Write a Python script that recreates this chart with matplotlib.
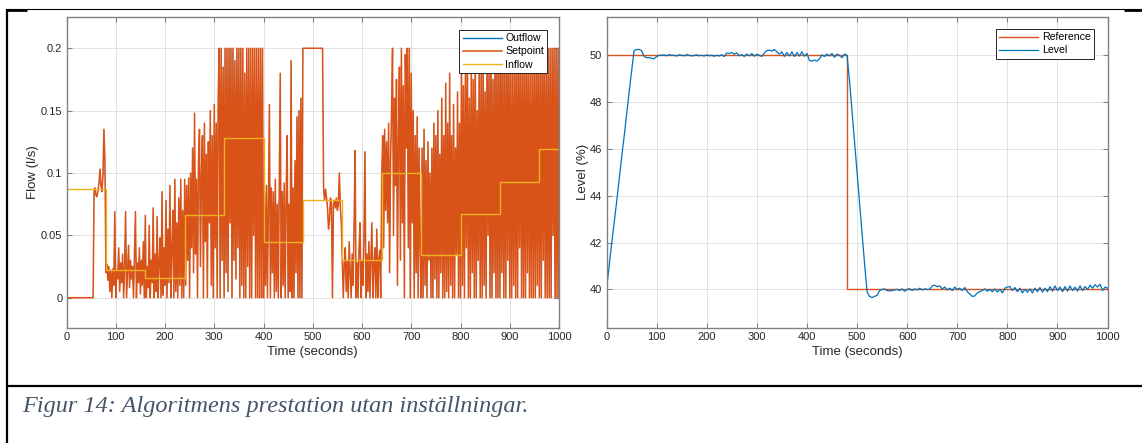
#%% imports
import numpy as np
import matplotlib
matplotlib.use('Agg')
import matplotlib.pyplot as plt
from matplotlib.lines import Line2D

plt.rcParams['font.family'] = ['Liberation Sans', 'DejaVu Sans']

#%% data

# left plot, sampled every 2 s, flow in ml/s
setpoint_ml = [
    # 0-54 s
    0, 0, 0, 0, 0, 0, 0, 0, 0, 0, 0, 0, 0, 0, 0, 0, 0, 0, 0, 0, 0, 0, 0, 0, 0, 0, 0, 0,
    # 56-78 s
    85, 88, 82, 81, 86, 92, 103, 90, 85, 98, 135, 110,
    # 80-158 s
    20, 27, 14, 25, 5, 22, 0, 23, 10, 69, 0, 22, 15, 40, 5, 28, 12, 35, 0, 25,
    69, 0, 20, 42, 8, 30, 15, 25, 0, 35, 69, 0, 28, 12, 40, 3, 30, 10, 45, 0,
    # 160-238 s
    66, 0, 25, 8, 58, 0, 30, 12, 72, 0, 35, 5, 65, 0, 28, 48, 0, 85, 2, 40,
    10, 78, 0, 55, 12, 90, 0, 38, 70, 0, 95, 5, 60, 0, 80, 10, 95, 0, 70, 0,
    # 240-318 s
    95, 10, 90, 30, 96, 0, 100, 40, 120, 20, 148, 35, 95, 0, 110, 135, 25, 100, 130, 0,
    140, 45, 115, 0, 125, 60, 150, 10, 130, 0, 155, 40, 140, 0, 160, 200, 0, 200, 30, 185,
    # 320-398 s
    0, 200, 20, 200, 5, 200, 60, 200, 0, 200, 30, 190, 15, 200, 40, 200, 0, 200, 10, 200,
    0, 180, 0, 200, 25, 200, 0, 200, 0, 200, 50, 200, 0, 200, 0, 200, 0, 200, 0, 200,
    # 400-478 s
    0, 85, 10, 90, 0, 80, 155, 0, 88, 20, 85, 0, 95, 5, 75, 0, 90, 180, 0, 85,
    10, 92, 0, 80, 130, 0, 75, 5, 190, 0, 88, 0, 110, 20, 145, 0, 150, 0, 160, 0,
    # 480-518 s
    200, 200, 200, 200, 200, 200, 200, 200, 200, 200,
    200, 200, 200, 200, 200, 200, 200, 200, 200, 200,
    # 520-558 s
    200, 88, 78, 87, 80, 72, 55, 62, 80, 76, 0, 74, 78, 72, 80, 70, 75, 100, 72, 60,
    # 560-638 s
    30, 0, 28, 40, 5, 30, 0, 45, 20, 0, 35, 10, 60, 118, 0, 28, 0, 40, 60, 0,
    30, 10, 50, 117, 0, 35, 5, 45, 0, 30, 60, 0, 25, 40, 0, 55, 0, 30, 38, 0,
    # 640-718 s
    95, 130, 40, 135, 70, 125, 60, 140, 20, 110, 150, 200, 50, 160, 90, 175, 10, 130, 185, 30,
    200, 60, 170, 0, 195, 120, 200, 40, 200, 0, 180, 60, 150, 0, 130, 20, 145, 0, 120, 40,
    # 720-798 s
    0, 120, 0, 135, 10, 110, 0, 125, 30, 100, 0, 120, 0, 140, 15, 130, 0, 150, 0, 115,
    20, 160, 0, 130, 0, 172, 5, 140, 0, 180, 10, 130, 0, 155, 0, 120, 35, 165, 0, 140,
    # 800-878 s
    0, 200, 10, 170, 0, 185, 40, 200, 0, 160, 0, 190, 20, 175, 0, 200, 0, 150, 30, 195,
    0, 180, 0, 200, 10, 165, 0, 200, 50, 185, 0, 200, 0, 175, 20, 200, 0, 190, 0, 200,
    # 880-958 s
    0, 200, 20, 200, 0, 190, 0, 200, 30, 200, 0, 200, 0, 180, 10, 200, 0, 200, 0, 200,
    40, 195, 0, 200, 0, 200, 0, 200, 20, 200, 0, 185, 0, 200, 0, 200, 0, 200, 10, 200,
    # 960-1000 s
    0, 200, 0, 200, 30, 200, 0, 190, 0, 200, 0, 200, 0, 200, 50, 200, 0, 200, 0, 200, 0,
]
# outflow follows the setpoint and is hidden underneath it
outflow_ml = setpoint_ml

inflow_times = [0, 80, 160, 240, 320, 400, 480, 560, 640, 720, 800, 880, 960, 1000]
inflow_ml = [87.5, 22, 16, 66, 128, 45, 78, 30, 100, 34, 67, 93, 119, 119]

# right plot
ref_times = [0, 480, 1000]
ref_level = [50, 40, 40]

# level sampled every 5 s
level = [
    40.0, 40.95, 41.9, 42.8, 43.7, 44.65, 45.6, 46.5, 47.45, 48.4,
    49.3, 50.2, 50.25, 50.25, 50.2, 49.95, 49.9, 49.9, 49.88, 49.85,
    49.95, 50.0, 50.0, 50.02, 49.98, 50.03, 50.0, 50.0, 49.97, 50.02,
    50.0, 49.98, 50.03, 50.0, 49.97, 50.0, 50.02, 49.98, 50.0, 49.97,
    50.02, 49.98, 50.0, 49.96, 50.0, 49.97, 50.02, 49.95, 50.1, 50.08,
    50.12, 50.05, 50.1, 49.98, 50.03, 49.95, 50.05, 49.98, 50.08, 49.96,
    50.05, 50.0, 49.95, 50.1, 50.2, 50.22, 50.18, 50.25, 50.15, 50.05,
    50.15, 49.95, 50.12, 49.98, 50.15, 49.95, 50.12, 49.97, 50.15, 49.96,
    50.08, 49.78, 49.75, 49.8, 49.75, 49.85, 50.02, 49.95, 50.05, 49.98,
    50.08, 49.92, 50.05, 50.0, 49.9, 50.05, 50.0, 48.9, 47.6, 46.3,
    45.0, 43.7, 42.4, 41.1, 39.9, 39.7, 39.65, 39.7, 39.75, 39.95,
    40.0, 40.02, 39.95, 39.93, 39.95, 39.98, 40.0, 39.95, 40.02, 39.92,
    40.0, 40.03, 39.95, 40.02, 39.98, 40.05, 39.98, 40.02, 40.0, 40.0,
    40.15, 40.18, 40.12, 40.15, 40.02, 40.1, 39.98, 40.05, 39.95, 40.1,
    40.0, 40.05, 39.95, 40.08, 39.9, 39.8, 39.7, 39.72, 39.85, 39.9,
    39.95, 40.02, 39.92, 40.0, 39.9, 40.02, 39.88, 40.0, 39.85, 40.05,
    40.1, 40.12, 39.95, 40.08, 39.9, 40.05, 39.85, 40.0, 39.88, 40.02,
    39.85, 40.05, 39.9, 40.08, 39.88, 40.05, 39.9, 40.12, 39.92, 40.15,
    39.95, 40.1, 39.9, 40.12, 39.92, 40.15, 39.95, 40.1, 39.93, 40.15,
    39.95, 40.12, 40.0, 40.18, 40.05, 40.2, 40.1, 40.22, 39.95, 40.1,
    40.05,
]

caption = 'Figur 14: Algoritmens prestation utan inställningar.'

flow_time = np.arange(len(setpoint_ml)) * 2
level_time = np.arange(len(level)) * 5
setpoint = np.array(setpoint_ml) / 1000
outflow = np.array(outflow_ml) / 1000
inflow = np.array(inflow_ml) / 1000

#%% figure
W, H = 1142, 443
fig = plt.figure(figsize=(W / 100, H / 100), dpi=100)

BLUE = '#0072BD'
ORANGE = '#D95319'
YELLOW = '#EDB120'
TXT = '#262626'


def style_axes(ax):
    ax.set_xlim(0, 1000)
    ax.set_xticks(range(0, 1001, 100))
    ax.grid(True, color='#dcdcdc', linewidth=0.6)
    ax.set_axisbelow(True)
    for s in ax.spines.values():
        s.set_color('#808080')
        s.set_linewidth(1.0)
    ax.tick_params(direction='in', top=True, right=True, length=3.5, width=0.8,
                   color='#808080', labelsize=8, labelcolor=TXT, pad=3)
    ax.set_xlabel('Time (seconds)', fontsize=9.5, color=TXT, labelpad=2.5)


ax1 = fig.add_axes([66.5 / W, 1 - 328 / H, 492.5 / W, 311.3 / H])
ax1.plot(flow_time, outflow, color=BLUE, lw=0.3, label='Outflow')
ax1.plot(flow_time, setpoint, color=ORANGE, lw=1.1, label='Setpoint')
ax1.plot(inflow_times, inflow, color=YELLOW, lw=1.0, drawstyle='steps-post', label='Inflow')
style_axes(ax1)
ax1.set_ylim(-0.0243, 0.2253)
ax1.set_yticks([0, 0.05, 0.1, 0.15, 0.2])
ax1.set_yticklabels(['0', '0.05', '0.1', '0.15', '0.2'])
ax1.set_ylabel('Flow (l/s)', fontsize=9.5, color=TXT, labelpad=1)
leg1 = ax1.legend(loc='upper right', bbox_to_anchor=(0.976, 0.957), borderaxespad=0,
                  fontsize=7.6, handlelength=3.7, handletextpad=0.35, labelspacing=0.3,
                  borderpad=0.3, fancybox=False, framealpha=1)
leg1.get_frame().set_edgecolor(TXT)
leg1.get_frame().set_linewidth(0.7)
leg1.get_lines()[0].set_linewidth(1.0)

ax2 = fig.add_axes([606.5 / W, 1 - 328 / H, 501.1 / W, 311.3 / H])
ax2.plot(ref_times, ref_level, color=ORANGE, lw=1.0, drawstyle='steps-post', label='Reference')
ax2.plot(level_time, level, color=BLUE, lw=0.9, label='Level')
style_axes(ax2)
ax2.set_ylim(38.35, 51.65)
ax2.set_yticks([40, 42, 44, 46, 48, 50])
ax2.set_ylabel('Level (%)', fontsize=9.5, color=TXT, labelpad=1)
leg2 = ax2.legend(loc='upper right', bbox_to_anchor=(0.973, 0.96), borderaxespad=0,
                  fontsize=7.6, handlelength=3.7, handletextpad=0.35, labelspacing=0.3,
                  borderpad=0.3, fancybox=False, framealpha=1)
leg2.get_frame().set_edgecolor(TXT)
leg2.get_frame().set_linewidth(0.7)

#%% frame around the figure and caption (document table look)
def fig_line(x0, x1, y0, y1, lw):
    fig.add_artist(Line2D([x0 / W, x1 / W], [1 - y0 / H, 1 - y1 / H],
                          color='black', linewidth=lw, solid_capstyle='butt'))


fig_line(6, W, 9, 9, 0.8)
fig_line(6, 27, 9.5, 9.5, 2.0)
fig_line(1124, W, 9.5, 9.5, 2.0)
fig_line(7, 7, 9, H, 1.6)
fig_line(6, W, 386, 386, 1.6)

fig.text(22 / W, 1 - 412 / H, caption, fontsize=17.5, style='italic',
         family=['Liberation Serif', 'DejaVu Serif'], color='#44546A', va='baseline')

fig.savefig('out.png', dpi=100)
